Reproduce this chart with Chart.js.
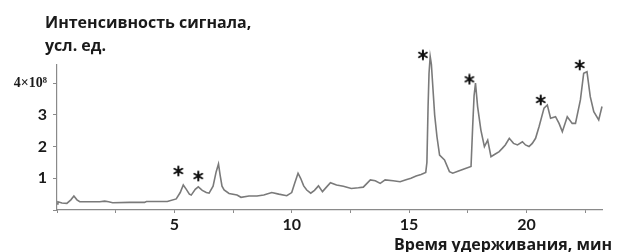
<!DOCTYPE html>
<html>
<head>
<meta charset="utf-8">
<script src="https://cdn.jsdelivr.net/npm/chart.js@4/dist/chart.umd.min.js"></script>
<style>
html, body { margin: 0; padding: 0; background: #fff; }
#wrap { width: 617px; height: 252px; }
</style>
</head>
<body>
<div id="wrap"><canvas id="chart"></canvas></div>
<script>
// retention time, min
var times = [0.00,0.04,0.21,0.42,0.59,0.72,0.85,0.97,1.82,2.03,2.20,2.37,
	3.09,3.73,3.81,4.70,5.08,5.25,5.38,5.51,5.64,5.72,5.89,6.02,
	6.19,6.36,6.48,6.65,6.78,6.88,6.95,7.03,7.12,7.33,7.67,7.84,8.18,8.52,8.81,9.15,9.45,9.79,
	10.00,10.13,10.27,10.38,10.51,10.64,10.81,10.97,11.14,11.31,11.48,11.65,11.91,
	12.20,12.54,12.84,13.05,13.35,13.56,13.77,13.98,14.32,14.62,14.87,
	15.08,15.30,15.51,15.71,15.76,15.81,15.85,15.90,15.95,16.02,16.09,16.19,16.30,16.51,16.72,16.86,
	17.08,17.37,17.64,17.71,17.77,17.83,17.92,18.06,18.21,18.35,18.49,18.64,18.84,18.98,
	19.10,19.27,19.45,19.62,19.83,19.96,20.11,20.25,20.39,20.54,20.75,20.89,
	21.03,21.24,21.39,21.53,21.74,21.95,22.09,22.30,22.44,22.58,22.72,22.87,23.08,23.22,23.30];

// signal, x10^8
var signal = [0.19,0.26,0.22,0.21,0.32,0.44,0.32,0.26,0.26,0.28,0.26,0.23,
	0.24,0.24,0.27,0.27,0.35,0.55,0.79,0.65,0.50,0.47,0.65,0.73,
	0.62,0.55,0.53,0.75,1.20,1.45,1.10,0.75,0.63,0.52,0.47,0.40,0.44,0.44,0.47,0.55,0.50,0.45,
	0.55,0.85,1.16,1.00,0.76,0.63,0.53,0.62,0.76,0.58,0.72,0.86,0.79,
	0.75,0.68,0.70,0.72,0.95,0.92,0.84,0.95,0.92,0.89,0.95,
	1.00,1.07,1.12,1.18,1.50,3.26,4.30,4.84,4.60,3.80,3.00,2.30,1.73,1.58,1.21,1.16,
	1.22,1.30,1.37,2.63,3.60,4.00,3.26,2.52,2.00,2.20,1.68,1.75,1.84,1.95,
	2.05,2.26,2.10,2.05,2.15,2.05,2.00,2.10,2.26,2.63,3.21,3.31,
	2.89,2.94,2.73,2.47,2.94,2.73,2.73,3.47,4.31,4.36,3.57,3.10,2.84,3.26,3.20];

// asterisks over the peaks
var markTimes = [5.17, 6.02, 15.59, 17.57, 20.61, 22.27];
var markValues = [1.23, 1.07, 4.89, 4.12, 3.47, 4.57];

var xLabels = [5, 10, 15, 20];
var yLabels = [1, 2, 3, 4];
var yTitle = ['Интенсивность сигнала,', 'усл. ед.'];
var xTitle = 'Время удерживания, мин';

// ------------------ asterisk glyph ------------------
var star = document.createElement('canvas');
star.width = 12; star.height = 12;
var sc = star.getContext('2d');
sc.strokeStyle = '#111';
sc.lineWidth = 2;
sc.lineCap = 'round';
for (var a = 0; a < 3; a++) {
	var ang = Math.PI / 2 + a * Math.PI / 3;
	sc.beginPath();
	sc.moveTo(6 - 4.5 * Math.cos(ang), 6 - 4.5 * Math.sin(ang));
	sc.lineTo(6 + 4.5 * Math.cos(ang), 6 + 4.5 * Math.sin(ang));
	sc.stroke();
}

// ------------------ axis titles ------------------
var titles = {
	id: 'titles',
	afterDraw: function(chart) {
		var ctx = chart.ctx;
		ctx.save();
		ctx.fillStyle = '#1a1a1a';
		ctx.font = 'bold 16px "Open Sans"';
		ctx.textBaseline = 'alphabetic';
		ctx.textAlign = 'left';
		ctx.fillText(yTitle[0], 45, 28);
		ctx.fillText(yTitle[1], 45, 51);
		ctx.textAlign = 'right';
		ctx.fillText(xTitle, 612, 250);
		ctx.restore();
	}
};

var points = times.map(function(t, i) { return {x: t, y: signal[i]}; });
var marks = markTimes.map(function(t, i) { return {x: t, y: markValues[i]}; });

new Chart(document.getElementById('chart'), {
	type: 'line',
	data: {
		datasets: [{
			data: points,
			borderColor: '#7a7a7a',
			borderWidth: 1.6,
			pointRadius: 0,
			tension: 0,
			clip: false
		}, {
			type: 'scatter',
			data: marks,
			pointStyle: star,
			pointRadius: 14,
			clip: false
		}]
	},
	options: {
		responsive: true,
		maintainAspectRatio: false,
		animation: false,
		layout: { padding: { top: 65, right: 12, bottom: 0, left: 0 } },
		plugins: { legend: { display: false }, tooltip: { enabled: false } },
		scales: {
			x: {
				type: 'linear',
				min: 0,
				max: 23.22,
				afterFit: function(s) { s.height = 42; },
				border: { display: true, color: '#8a8a8a', width: 1.2 },
				grid: { drawOnChartArea: false, tickLength: 3, color: '#8a8a8a' },
				ticks: {
					stepSize: 2.5,
					includeBounds: false,
					autoSkip: false,
					maxRotation: 0,
					padding: 2,
					color: '#1a1a1a',
					font: { family: 'Lato', size: 16, weight: 'bold' },
					callback: function(v) { return xLabels.indexOf(v) >= 0 ? String(v) : ''; }
				}
			},
			y: {
				min: 0,
				max: 4.57,
				afterFit: function(s) { s.width = 57; },
				border: { display: true, color: '#8a8a8a', width: 1.2 },
				grid: { drawOnChartArea: false, tickLength: 4, color: '#8a8a8a' },
				ticks: {
					stepSize: 1,
					includeBounds: false,
					padding: 6,
					color: '#1a1a1a',
					font: function(c) {
						if (c.tick && c.tick.value === 4) return { family: 'Liberation Serif', size: 14, weight: 'bold' };
						return { family: 'Lato', size: 16, weight: 'bold' };
					},
					callback: function(v) {
						if (yLabels.indexOf(v) < 0) return '';
						return v === 4 ? '4×10⁸' : String(v);
					}
				}
			}
		}
	},
	plugins: [titles]
});
</script>
</body>
</html>
